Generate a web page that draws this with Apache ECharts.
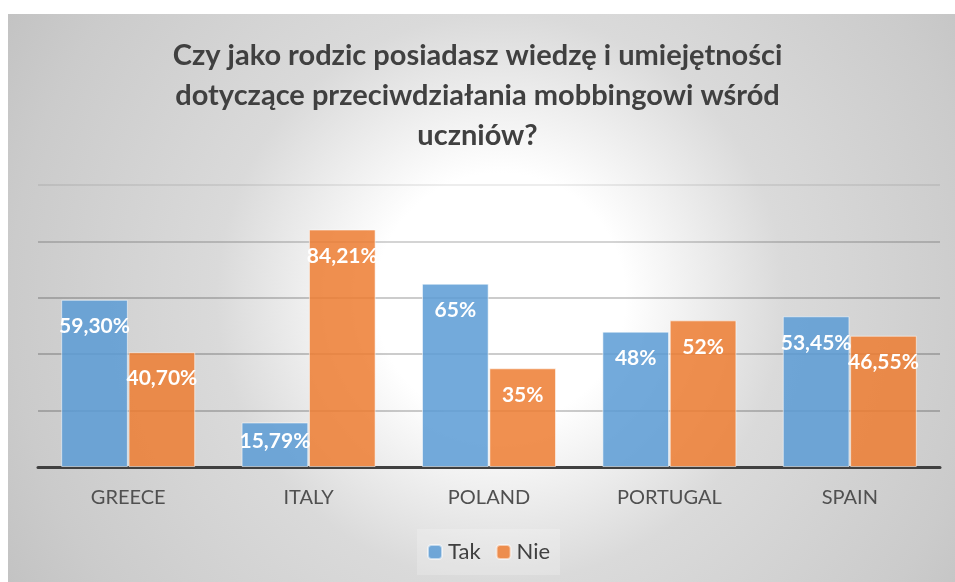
<!DOCTYPE html>
<html><head><meta charset="utf-8">
<script src="https://cdn.jsdelivr.net/npm/echarts@6/dist/echarts.min.js"></script>
<style>html,body{margin:0;padding:0;background:#fff}#c{width:955px;height:582px}</style>
</head><body><div id="c"></div>
<script>
const titleText = 'Czy jako rodzic posiadasz wiedzę i umiejętności\ndotyczące przeciwdziałania mobbingowi wśród\nuczniów?';
const categories = ['GREECE', 'ITALY', 'POLAND', 'PORTUGAL', 'SPAIN'];
const takValues = [59.30, 15.79, 65, 48, 53.45];
const nieValues = [40.70, 84.21, 35, 52, 46.55];
const takLabels = ['59,30%', '15,79%', '65%', '48%', '53,45%'];
const nieLabels = ['40,70%', '84,21%', '35%', '52%', '46,55%'];
const seriesNames = ['Tak', 'Nie'];

const FONT = 'Lato, "Open Sans", sans-serif';
function mk(vals, labels, name, color) {
  return {
    name: name, type: 'bar', barGap: '1%', barCategoryGap: '25.7%',
    data: vals.map((v, i) => ({
      value: v,
      label: { formatter: labels[i], distance: v < 20 ? 8 : 16 }
    })),
    itemStyle: { color: color, borderColor: 'rgba(255,255,255,0.55)', borderWidth: 1 },
    label: { show: true, position: 'insideTop', color: '#fff', fontFamily: FONT,
             fontWeight: 'bold', fontSize: 21 }
  };
}
const chart = echarts.init(document.getElementById('c'), null, { renderer: 'canvas' });
chart.setOption({
  animation: false,
  backgroundColor: '#fff',
  graphic: [{
    type: 'rect', z: -10, silent: true,
    shape: { x: 8, y: 14, width: 947, height: 568 },
    style: { fill: { type: 'radial', x: 0.52, y: 0.5, r: 1.0, colorStops: [
      { offset: 0, color: '#ffffff' }, { offset: 0.22, color: '#ffffff' },
      { offset: 0.5, color: '#dadada' }, { offset: 0.86, color: '#cbcbcb' },
      { offset: 1, color: '#c3c3c3' }] } }
  }],
  title: {
    text: titleText, left: 'center', top: 36, padding: [0, 0, 0, 22],
    textStyle: { fontFamily: FONT, fontSize: 29, fontWeight: 'bold', color: '#404040', lineHeight: 40 }
  },
  legend: {
    data: seriesNames, left: 417, top: 529, padding: [12, 10],
    itemWidth: 14, itemHeight: 14, itemGap: 15,
    backgroundColor: 'rgba(255,255,255,0.2)',
    textStyle: { fontFamily: FONT, fontSize: 22, color: '#404040', padding: [0, 0, 0, 1] }
  },
  grid: { left: 38, right: 15, top: 185, bottom: 115, containLabel: false },
  xAxis: {
    type: 'category', data: categories,
    axisLine: { lineStyle: { color: '#404040', width: 3 } },
    axisTick: { show: false },
    axisLabel: { margin: 21, fontFamily: FONT, fontSize: 20, color: '#505050' }
  },
  yAxis: {
    type: 'value', min: 0, max: 100, interval: 20,
    axisLabel: { show: false }, axisLine: { show: false }, axisTick: { show: false },
    splitLine: { lineStyle: { width: 2, color: ['rgba(0,0,0,0)', 'rgba(0,0,0,0.2)', 'rgba(0,0,0,0.2)', 'rgba(0,0,0,0.2)', 'rgba(0,0,0,0.17)', 'rgba(0,0,0,0.07)'] } }
  },
  series: [
    mk(takValues, takLabels, seriesNames[0], 'rgba(91,155,213,0.85)'),
    mk(nieValues, nieLabels, seriesNames[1], 'rgba(237,125,49,0.85)')
  ]
});
</script></body></html>
